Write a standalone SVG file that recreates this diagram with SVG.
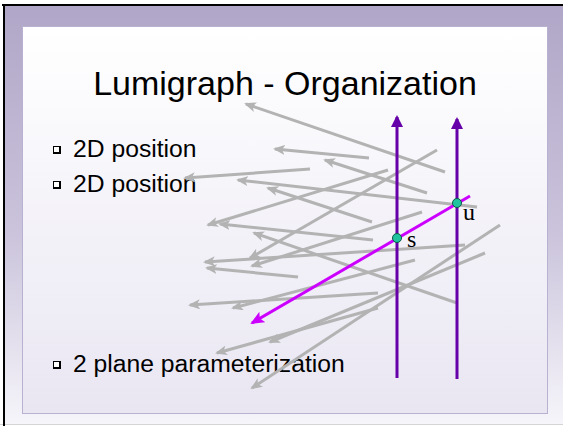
<svg xmlns="http://www.w3.org/2000/svg" width="563" height="426" viewBox="0 0 563 426">
<defs>
<linearGradient id="frame" x1="0" y1="0" x2="0" y2="1">
<stop offset="0" stop-color="#b0a6c7"/>
<stop offset="0.55" stop-color="#cbc4dc"/>
<stop offset="1" stop-color="#f6f5fa"/>
</linearGradient>
<linearGradient id="panel" x1="0" y1="0" x2="0" y2="1">
<stop offset="0" stop-color="#ffffff"/>
<stop offset="1" stop-color="#e9e6f2"/>
</linearGradient>
<marker id="ga" viewBox="0 0 12 10" refX="10" refY="5" markerWidth="12" markerHeight="10" markerUnits="userSpaceOnUse" orient="auto">
<path d="M0,0 L12,5 L0,10 L3,5 z" fill="#b3b3b3"/>
</marker>
<marker id="pa" viewBox="0 0 12 12" refX="10" refY="6" markerWidth="12" markerHeight="12" markerUnits="userSpaceOnUse" orient="auto">
<path d="M0,0 L12,6 L0,12 z" fill="#6600a8"/>
</marker>
<marker id="ma" viewBox="0 0 14 12" refX="12" refY="6" markerWidth="14" markerHeight="12" markerUnits="userSpaceOnUse" orient="auto">
<path d="M0,0 L14,6 L0,12 L3,6 z" fill="#cc00ff"/>
</marker>
<style>
.t{font-family:"Liberation Sans",Arial,sans-serif;fill:#000}
.lbl{font-family:"Liberation Serif","Times New Roman",serif;font-size:24px;fill:#000}
.g{stroke:#b3b3b3;stroke-width:3;fill:none;marker-end:url(#ga)}
.pv{stroke:#6600a8;stroke-width:3;fill:none;marker-end:url(#pa)}
.dot{fill:#1fc39d;stroke:#0a5a48;stroke-width:1}
</style>
</defs>
<rect x="0" y="0" width="563" height="426" fill="#ffffff"/>
<rect x="4" y="5" width="559" height="419" fill="url(#frame)"/>
<line x1="0" y1="424.5" x2="563" y2="424.5" stroke="#d4d4d4" stroke-width="1"/>
<line x1="2" y1="5" x2="563" y2="5" stroke="#000" stroke-width="2"/>
<line x1="4" y1="4" x2="4" y2="426" stroke="#000" stroke-width="2"/>
<rect x="22.5" y="26.5" width="525" height="387" fill="url(#panel)" stroke="#b9b1d1" stroke-width="1"/>

<text class="t" x="285" y="95" font-size="34" text-anchor="middle">Lumigraph - Organization</text>

<g id="bullets">
<rect x="53" y="146" width="8" height="8" fill="#000"/><rect x="54" y="147" width="5" height="5" fill="#fff"/>
<text class="t" x="73" y="157" font-size="24.7">2D position</text>
<rect x="53" y="181" width="8" height="8" fill="#000"/><rect x="54" y="182" width="5" height="5" fill="#fff"/>
<text class="t" x="73" y="192" font-size="24.7">2D position</text>
<rect x="53" y="361" width="8" height="8" fill="#000"/><rect x="54" y="362" width="5" height="5" fill="#fff"/>
<text class="t" x="73" y="372" font-size="24.7">2 plane parameterization</text>
</g>

<g id="connectors">
<line class="g" x1="445" y1="172" x2="246" y2="104"/>
<line class="g" x1="369" y1="158" x2="275" y2="149"/>
<line class="g" x1="427" y1="193" x2="325" y2="160"/>
<line class="g" x1="310" y1="169" x2="185" y2="178"/>
<line class="g" x1="477" y1="207" x2="238" y2="180"/>
<line class="g" x1="372" y1="222" x2="268" y2="188"/>
<line class="g" x1="388" y1="170" x2="208" y2="225"/>
<line class="g" x1="373" y1="240" x2="220" y2="224"/>
<line class="g" x1="457" y1="303" x2="254" y2="233"/>
<line class="g" x1="465" y1="245" x2="205" y2="262"/>
<line class="g" x1="298" y1="277" x2="207" y2="268"/>
<line class="g" x1="437" y1="150" x2="250" y2="258"/>
<line class="g" x1="422" y1="212" x2="252" y2="266"/>
<line class="g" x1="378" y1="293" x2="190" y2="305"/>
<line class="g" x1="415" y1="260" x2="233" y2="308"/>
<line class="g" x1="378" y1="308" x2="217" y2="353"/>
<line class="g" x1="485" y1="253" x2="270" y2="342"/>
<line class="g" x1="500" y1="225" x2="252" y2="388"/>

<line class="pv" x1="397" y1="378" x2="397" y2="117"/>
<line class="pv" x1="457" y1="379" x2="457" y2="119"/>
<line x1="470" y1="196" x2="252" y2="323" stroke="#cc00ff" stroke-width="3" marker-end="url(#ma)"/>
</g>

<g id="s"><circle class="dot" cx="397" cy="238" r="4.5"/><text class="lbl" x="407" y="247">s</text></g>
<g id="u"><circle class="dot" cx="457" cy="203" r="4.5"/><text class="lbl" x="463" y="220">u</text></g>
</svg>
